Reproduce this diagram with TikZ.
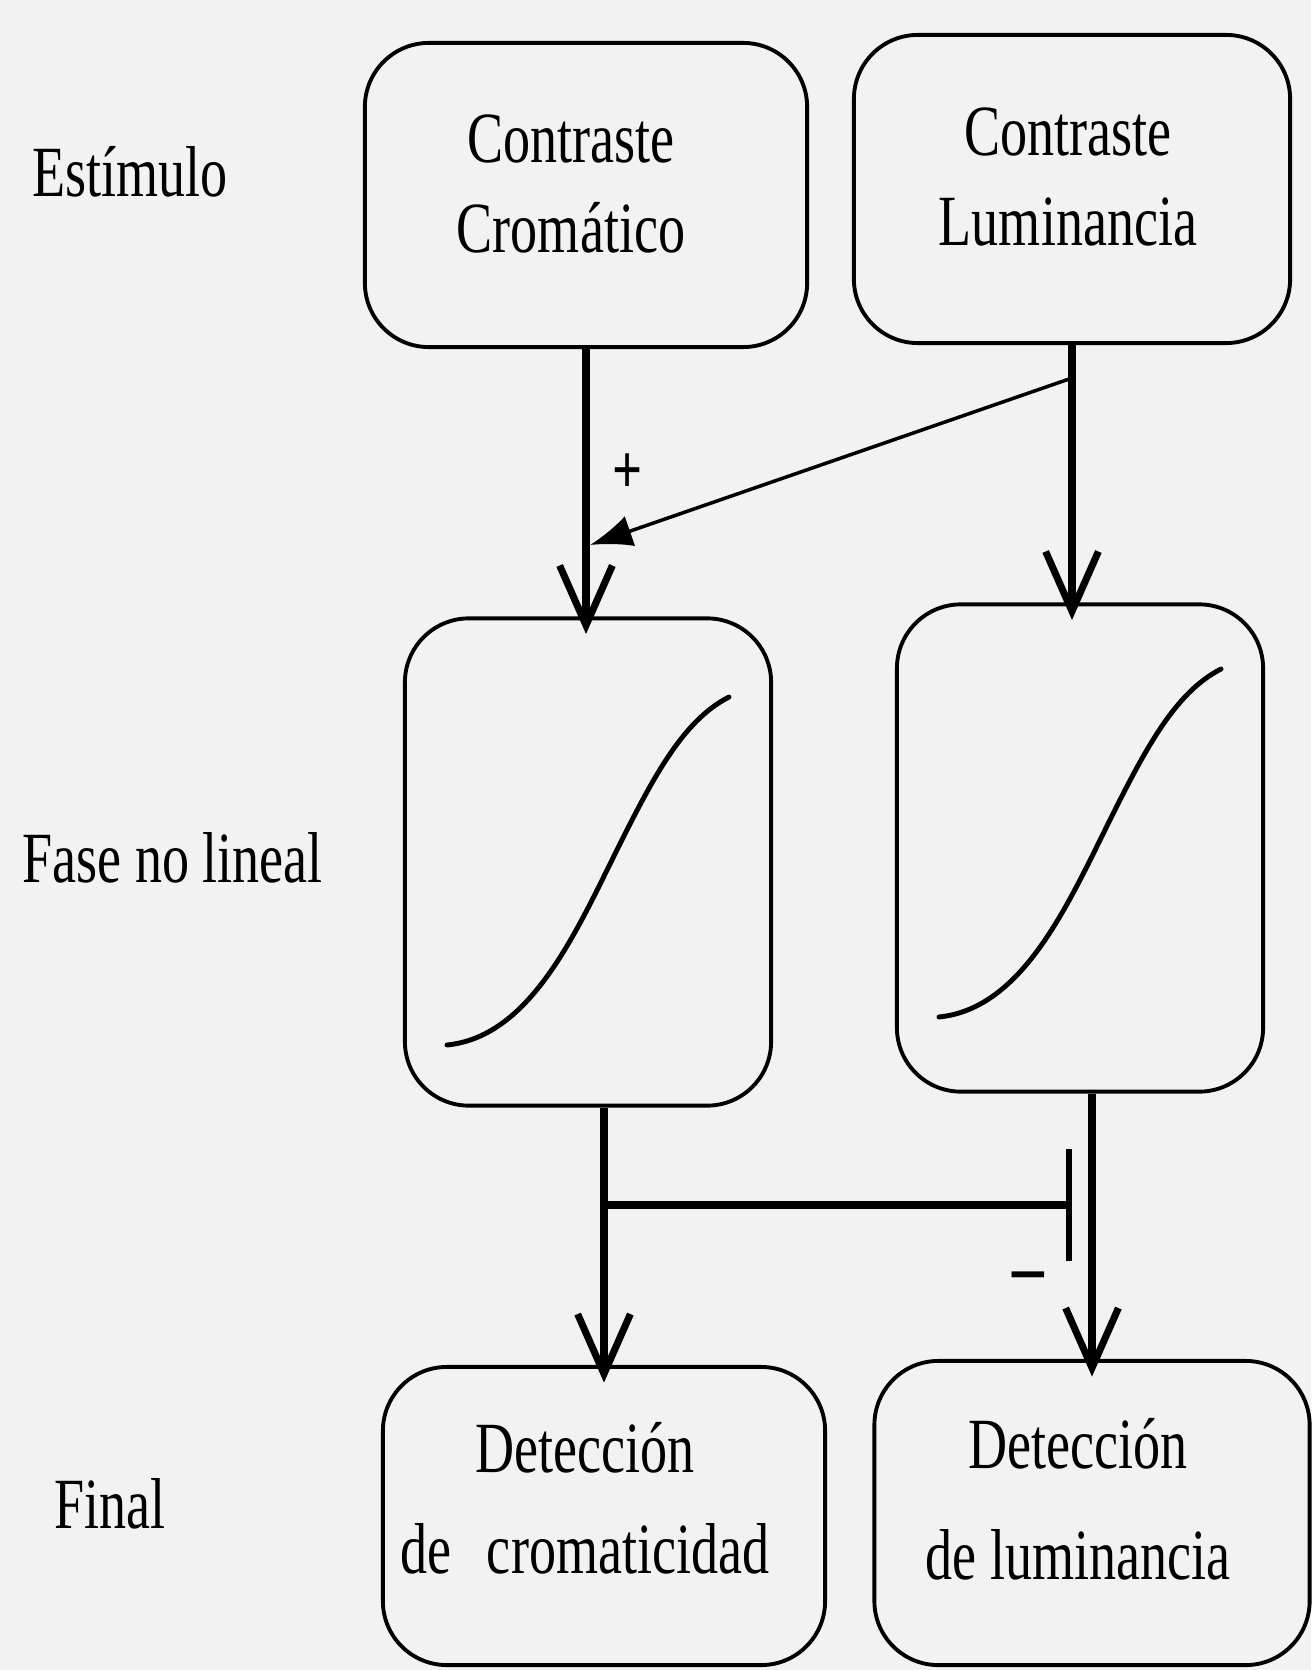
\documentclass[tikz,border=0pt]{standalone}
\usepackage{fontspec}
\setmainfont{Liberation Serif}[FakeStretch=0.75]
\usetikzlibrary{arrows.meta}

\begin{document}
\begin{tikzpicture}[x=0.01cm, y=-0.01cm,
    every node/.style={font=\fontsize{20.5}{25.6}\selectfont},
    box/.style={draw, line width=1.1pt, rounded corners=0.64cm, inner sep=0pt},
    boxtext/.style={align=center, inner sep=0pt},
    flow/.style={line width=2.2pt, -{Straight Barb[length=17pt,width=15pt,line width=2pt]}, shorten >=-5pt},
    stage/.style={anchor=base west},
    curve/.style={line width=1.4pt, line cap=round}]
    \fill[black!5] (0,0) rectangle (1311,1670);
    \useasboundingbox (0,0) rectangle (1311,1670);
    % Stage labels
    \node[stage] (estimulo) at (20,197) {Estímulo};
    \node[stage] (fase) at (10,882) {Fase no lineal};
    \node[stage] (final) at (42,1528) {Final};
    % Stimulus
    \node[box, minimum width=4.42cm, minimum height=3.04cm] (b1) at (586,195) {};
    \node[boxtext] (t1) at (571,184) {Contraste\\Cromático};
    \node[box, minimum width=4.36cm, minimum height=3.08cm] (b2) at (1072,189) {};
    \node[boxtext] (t2) at (1068,177) {Contraste\\Luminancia};
    % Non-linear stage
    \node[box, minimum width=3.66cm, minimum height=4.87cm] (b3) at (588,862) {};
    \node[box, minimum width=3.66cm, minimum height=4.87cm] (b4) at (1080,848) {};
    \foreach \b/\dy in {b3/0cm, b4/0.14cm}
        \draw[curve, shift={(\b.center)}, yshift=\dy] (-141,183) .. controls (-61,175) and (-16,79) .. (24,-2)
            .. controls (64,-83) and (94,-141) .. (141,-165);
    % Detection
    \node[box, minimum width=4.42cm, minimum height=2.98cm] (b5) at (604,1516) {};
    \node[boxtext] (t5) at (585,1498) {Detección\\[3pt]de\hspace{0.3em} cromaticidad};
    \node[box, minimum width=4.35cm, minimum height=3.04cm] (b6) at (1092,1513) {};
    \node[boxtext] (t6) at (1078,1499) {Detección\\[6pt]de luminancia};
    % Connections
    \draw[flow] (b1.south) -- (b1.south |- b3.north);
    \draw[flow] (b2.south) -- (b2.south |- b4.north);
    \draw[flow] (b5.north |- b3.south) -- (b5.north);
    \draw[flow] (b6.north |- b4.south) -- (b6.north);
    % Luminance feeds the chromatic path
    \coordinate (fork) at (1072,378);
    \coordinate (join) at (590,545);
    \draw[line width=1pt, -{Latex[length=12pt,width=9pt]}] (fork) -- (join);
    \node[font=\fontsize{20}{24}\selectfont\bfseries] (plus) at (628,474) {+};
    % Inhibition
    \coordinate (split) at (602,1205);
    \coordinate (stop) at (1072,1205);
    \draw[line width=2.2pt, -{Bar[width=32pt,line width=1.6pt]}] (split) -- (stop);
    \node[font=\fontsize{24}{28}\selectfont\bfseries] (minus) at (1028,1283) {--};
\end{tikzpicture}
\end{document}
